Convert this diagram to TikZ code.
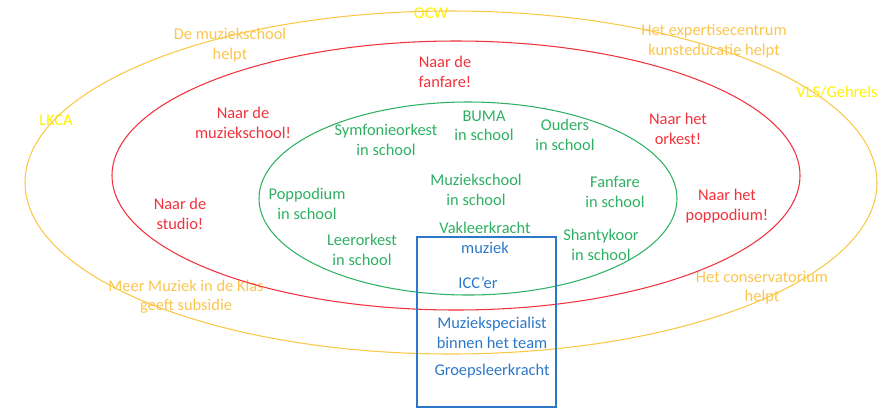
\documentclass[tikz,border=0pt]{standalone}
\usepackage{fontspec}
\setmainfont{Carlito}
\usepackage{xcolor}
\usepackage{tikz}
\definecolor{ringgold}{HTML}{FAC846}
\definecolor{textgold}{HTML}{FBC54E}
\definecolor{brightyellow}{HTML}{FFF200}
\definecolor{ringred}{HTML}{F0323C}
\definecolor{ringgreen}{HTML}{2EB062}
\definecolor{boxblue}{HTML}{2C78C8}
\tikzstyle{label}=[align=center, inner sep=0pt, font=\fontsize{14}{16.5}\selectfont]
\tikzstyle{gold text}=[label, text=textgold]
\tikzstyle{yellow text}=[label, text=brightyellow]
\tikzstyle{red text}=[label, text=ringred]
\tikzstyle{green text}=[label, text=ringgreen]
\tikzstyle{blue text}=[label, text=boxblue]
\tikzstyle{gold ring}=[draw=ringgold, line width=0.9pt]
\tikzstyle{red ring}=[draw=ringred, line width=0.9pt]
\tikzstyle{green ring}=[draw=ringgreen, line width=0.9pt]
\tikzstyle{blue box}=[draw=boxblue, line width=0.9pt]
\pgfdeclarelayer{nodelayer}
\pgfdeclarelayer{edgelayer}
\pgfsetlayers{nodelayer,edgelayer,main}
\begin{document}
\begin{tikzpicture}[x=0.03cm, y=-0.03cm]
        	\useasboundingbox (0, 0) rectangle (881, 408);
        	\begin{pgfonlayer}{nodelayer}
        		\node [style=yellow text] (0) at (431, 13) {OCW};
        		\node [style=gold text] (1) at (230, 45) {De muziekschool\\helpt};
        		\node [style=gold text] (2) at (714, 41) {Het expertisecentrum\\kunsteducatie helpt};
        		\node [style=yellow text] (3) at (56, 120) {LKCA};
        		\node [style=yellow text] (4) at (837, 92) {VLS/Gehrels};
        		\node [style=gold text] (5) at (186, 297) {Meer Muziek in de Klas\\geeft subsidie};
        		\node [style=gold text] (6) at (762, 288) {Het conservatorium\\helpt};
        		\node [style=red text] (7) at (445, 72) {Naar de\\fanfare!};
        		\node [style=red text] (8) at (243, 123) {Naar de\\muziekschool!};
        		\node [style=red text] (9) at (678, 129) {Naar het\\orkest!};
        		\node [style=red text] (10) at (180, 214) {Naar de\\studio!};
        		\node [style=red text] (11) at (727, 206) {Naar het\\poppodium!};
        		\node [style=green text] (12) at (386, 140) {Symfonieorkest\\in school};
        		\node [style=green text] (13) at (484, 126) {BUMA\\in school};
        		\node [style=green text] (14) at (565, 135) {Ouders\\in school};
        		\node [style=green text] (15) at (307, 204) {Poppodium\\in school};
        		\node [style=green text] (16) at (476, 190) {Muziekschool\\in school};
        		\node [style=green text] (17) at (615, 192) {Fanfare\\in school};
        		\node [style=green text] (18) at (362, 250) {Leerorkest\\in school};
        		\node [style=green text] (19) at (601, 245) {Shantykoor\\in school};
        		\node [style=blue text] (20) at (485, 238) {\textcolor{ringgreen}{Vakleerkracht}\\muziek};
        		\node [style=blue text] (21) at (478, 283) {ICC’er};
        		\node [style=blue text] (22) at (492, 333) {Muziekspecialist\\binnen het team};
        		\node [style=blue text] (23) at (492, 371) {Groepsleerkracht};
        	\end{pgfonlayer}
        	\begin{pgfonlayer}{edgelayer}
        		\draw [style=gold ring] (451, 182.5) ellipse [x radius=426, y radius=171.5];
        		\draw [style=red ring] (456, 175.5) ellipse [x radius=344, y radius=134.5];
        		\draw [style=green ring] (468, 198.5) ellipse [x radius=209, y radius=96.5];
        		\draw [style=blue box] (417, 237) rectangle (556, 407);
        	\end{pgfonlayer}
\end{tikzpicture}
\end{document}
